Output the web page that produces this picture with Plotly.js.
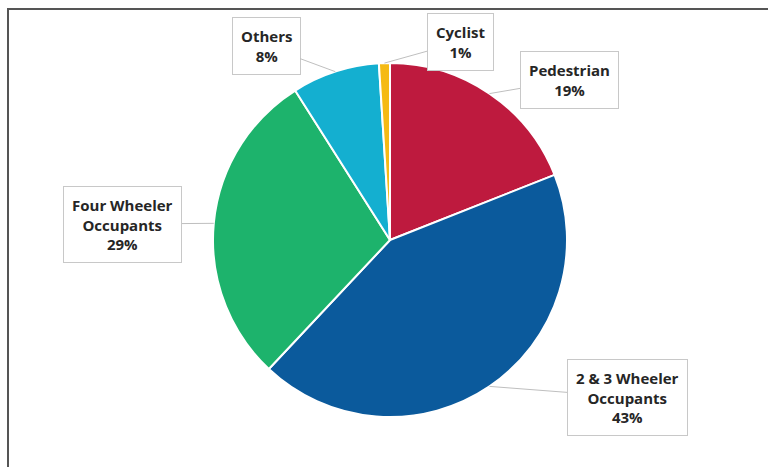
<!DOCTYPE html>
<html>
<head>
<meta charset="utf-8">
<script src="https://cdn.plot.ly/plotly-3.0.1.min.js"></script>
<style>html,body{margin:0;padding:0;background:#fff;}#chart{width:768px;height:467px;}</style>
</head>
<body>
<div id="chart"></div>
<script>
// ---- data ----
const categories = ["Pedestrian", "2 & 3 Wheeler Occupants", "Four Wheeler Occupants", "Others", "Cyclist"];
const labelLines = ["Pedestrian", "2 & 3 Wheeler<br>Occupants", "Four Wheeler<br>Occupants", "Others", "Cyclist"];
const shares = [19, 43, 29, 8, 1];
const sliceColors = ["#BE1A3E", "#0B5A9C", "#1DB36C", "#14AFD0", "#F5BA14"];

// ---- layout config (pixels) ----
const W = 768, H = 467;
const cx = 390, cy = 240, R = 177;
const boxCenters = [[569, 80], [627, 397], [123, 224], [266, 46], [460, 42]];

const total = shares.reduce((a, b) => a + b, 0);
let cum = 0;
const annotations = shares.map((v, i) => {
  const mid = (cum + v / 2) / total * 2 * Math.PI;
  cum += v;
  const hx = cx + R * Math.sin(mid);
  const hy = cy - R * Math.cos(mid);
  const pct = Math.round(v / total * 100) + '%';
  return {
    xref: 'paper', yref: 'paper',
    x: hx / W, y: 1 - hy / H,
    axref: 'pixel', ayref: 'pixel',
    ax: boxCenters[i][0] - hx, ay: boxCenters[i][1] - hy,
    text: labelLines[i] + '<br>' + pct,
    showarrow: true, arrowhead: 0, arrowwidth: 1, arrowcolor: '#BFBFBF',
    standoff: 0,
    font: {family: 'Open Sans, sans-serif', size: 15, color: '#262626', weight: 'bold'},
    bgcolor: '#FFFFFF', bordercolor: '#C8C8C8', borderwidth: 1, borderpad: 8,
    align: 'center'
  };
});

const trace = {
  type: 'pie',
  labels: categories,
  values: shares,
  sort: false,
  direction: 'clockwise',
  rotation: 0,
  textinfo: 'none',
  hoverinfo: 'label+percent',
  marker: {colors: sliceColors, line: {color: '#FFFFFF', width: 2}},
  domain: {x: [(cx - R) / W, (cx + R) / W], y: [1 - (cy + R) / H, 1 - (cy - R) / H]},
  showlegend: false
};

const layout = {
  width: W, height: H,
  margin: {l: 0, r: 0, t: 0, b: 0},
  paper_bgcolor: '#FFFFFF',
  showlegend: false,
  annotations: annotations,
  shapes: [{
    type: 'rect', xref: 'paper', yref: 'paper',
    x0: 8 / W, x1: 1.02, y0: -0.02, y1: 1 - 9 / H,
    line: {color: '#555555', width: 2}, fillcolor: 'rgba(0,0,0,0)', layer: 'below'
  }]
};

Plotly.newPlot('chart', [trace], layout, {displayModeBar: false, staticPlot: true});
</script>
</body>
</html>
